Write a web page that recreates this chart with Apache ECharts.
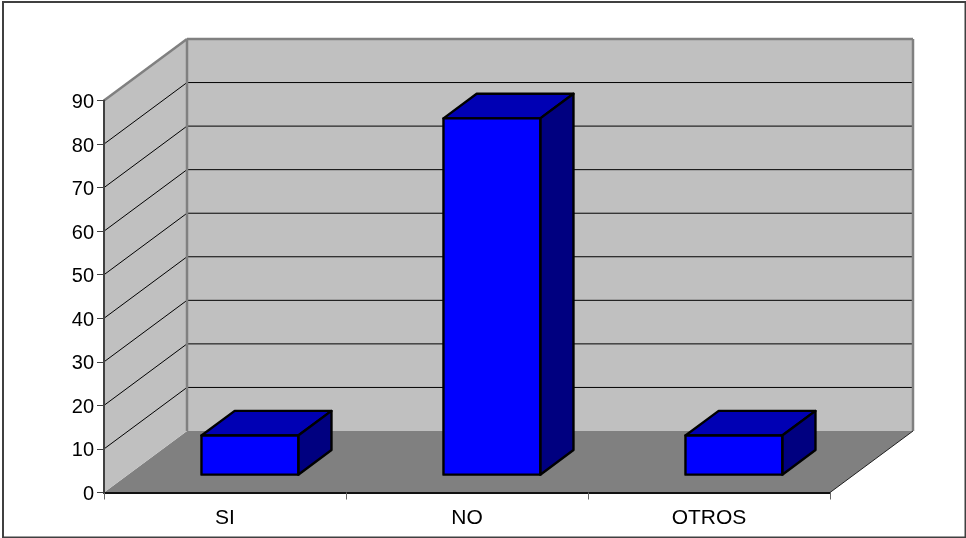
<!DOCTYPE html>
<html><head><meta charset="utf-8">
<style>html,body{margin:0;padding:0;background:#fff}#c{width:966px;height:538px}</style>
<script src="https://cdn.jsdelivr.net/npm/echarts@6/dist/echarts.min.js"></script>
</head><body><div id="c"></div>
<script>
const categories = ['SI', 'NO', 'OTROS'];
const values = [9, 81.8, 9];
const yMax = 90;
const yStep = 10;
const yTicks = [0, 10, 20, 30, 40, 50, 60, 70, 80, 90];

const DX = 83, DY = -61.5;          // projection of full floor depth
const D0 = 0.29, D1 = 0.69;         // bar depth range
const BAR = 0.40;                   // bar width as fraction of band

const chart = echarts.init(document.getElementById('c'), null, {renderer: 'canvas'});

function poly(points, fill, stroke, lw, z2) {
  return {type: 'polygon', shape: {points}, z2: z2 || 0,
    style: {fill: fill, stroke: stroke || null, lineWidth: lw || 0, lineJoin: 'round'}};
}
function seg(x1, y1, x2, y2, stroke, lw, z2) {
  return {type: 'line', shape: {x1, y1, x2, y2}, z2: z2 || 0, style: {stroke, lineWidth: lw, fill: null}};
}

function renderWalls(params, api) {
  const cs = params.coordSys;
  const L = cs.x, R = cs.x + cs.width, T = cs.y, B = cs.y + cs.height;
  const kids = [];
  kids.push(poly([[L, B], [L + DX, B + DY], [R + DX, B + DY], [R, B]], '#808080'));
  kids.push(poly([[L, T], [L + DX, T + DY], [L + DX, B + DY], [L, B]], '#c0c0c0'));
  kids.push(poly([[L + DX, T + DY], [R + DX, T + DY], [R + DX, B + DY], [L + DX, B + DY]], '#c0c0c0'));
  yTicks.forEach(v => {
    if (v === 0 || v === yMax) return;
    const y = api.coord([0, v])[1];
    kids.push(seg(L, y, L + DX, y + DY, '#000', 1, 1));
    kids.push(seg(L + DX, y + DY, R + DX, y + DY, '#000', 1, 1));
  });
  kids.push(seg(L, T, L + DX, T + DY, '#808080', 2.5, 2));
  kids.push(seg(L + DX, T + DY, R + DX, T + DY, '#808080', 2.5, 2));
  kids.push(seg(L + DX, T + DY, L + DX, B + DY, '#808080', 2.5, 2));
  kids.push(seg(R + DX, T + DY, R + DX, B + DY, '#808080', 2.5, 2));
  kids.push(seg(R, B, R + DX, B + DY, '#202020', 1, 2));
  return {type: 'group', children: kids};
}

function renderBar(params, api) {
  const i = api.value(0), v = api.value(1);
  const base = api.coord([i, 0]), top = api.coord([i, v]);
  const w = api.size([1, 0])[0] * BAR;
  const x0 = base[0] - w / 2 + DX * D0 + 0.8;
  const x1 = x0 + w;
  const yb = base[1] + DY * D0, yt = top[1] + DY * D0;
  const dx = DX * (D1 - D0), dy = DY * (D1 - D0);
  const st = '#000', lw = 2.4;
  return {type: 'group', children: [
    poly([[x0, yt], [x1, yt], [x1 + dx, yt + dy], [x0 + dx, yt + dy]], '#0000b4', st, lw),
    poly([[x1, yb], [x1 + dx, yb + dy], [x1 + dx, yt + dy], [x1, yt]], '#000080', st, lw),
    poly([[x0, yb], [x1, yb], [x1, yt], [x0, yt]], '#0000ff', st, lw)
  ]};
}

chart.setOption({
  animation: false,
  backgroundColor: '#fff',
  graphic: [{type: 'rect', z: -1, shape: {x: 3, y: 2, width: 962.5, height: 535.5},
    style: {fill: null, stroke: '#404040', lineWidth: 2}}],
  grid: {left: 104, top: 100.5, width: 726, height: 392, containLabel: false},
  xAxis: {
    type: 'category', data: categories, z: 5,
    axisLine: {show: true, lineStyle: {color: '#111', width: 2}},
    axisTick: {show: true, length: 7, alignWithLabel: false, lineStyle: {color: '#666', width: 1}},
    axisLabel: {color: '#000', fontFamily: 'Liberation Sans', fontSize: 21, margin: 15},
    splitLine: {show: false}
  },
  yAxis: {
    type: 'value', min: 0, max: yMax, interval: yStep, z: 5,
    axisLine: {show: true, lineStyle: {color: '#404040', width: 2}},
    axisTick: {show: true, length: 7, lineStyle: {color: '#404040', width: 1}},
    axisLabel: {color: '#000', fontFamily: 'Liberation Sans', fontSize: 20, margin: 10, verticalAlign: 'top', lineHeight: 4},
    splitLine: {show: false}
  },
  series: [
    {type: 'custom', coordinateSystem: 'cartesian2d', clip: false, silent: true, z: 1,
      renderItem: renderWalls, data: [[0, 0]], encode: {x: 0, y: 1}},
    {type: 'custom', coordinateSystem: 'cartesian2d', clip: false, silent: true, z: 2,
      renderItem: renderBar, data: values.map((v, i) => [i, v]), encode: {x: 0, y: 1}}
  ]
});
</script></body></html>
